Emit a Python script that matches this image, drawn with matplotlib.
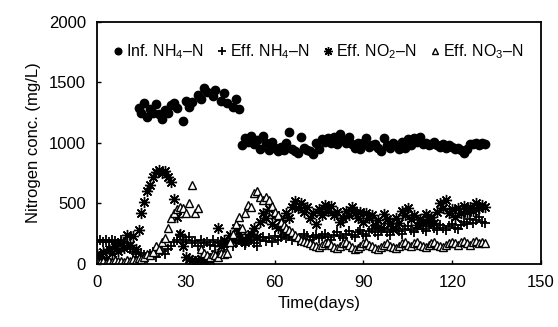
import matplotlib
matplotlib.use("Agg")
import matplotlib.pyplot as plt

plt.rcParams['font.family'] = ['Liberation Sans', 'DejaVu Sans']
plt.rcParams['mathtext.fontset'] = 'custom'
plt.rcParams['mathtext.rm'] = 'Liberation Sans'
plt.rcParams['mathtext.it'] = 'Liberation Sans'

# influent NH4-N (two operating phases)
inf_days = [14, 15, 16, 17, 18, 19, 20, 21, 22, 23, 24, 25, 26, 27, 29, 30, 31, 32, 34,
            35, 36, 37, 39, 40, 42, 43, 44, 46, 47, 48,
            49, 50, 51, 52, 53, 54, 55, 56, 57, 58, 59, 60, 61, 62, 63, 64, 65, 66, 67, 68,
            69, 70, 71, 72, 73, 74, 75, 76, 77, 78, 79, 80, 81, 82, 83, 84, 85, 86, 87, 88,
            89, 90, 91, 92, 93, 94, 95, 96, 97, 98, 99, 100, 101, 102, 103, 104, 105, 106,
            107, 108, 109, 110, 111, 112, 113, 114, 115, 116, 117, 118, 119, 120, 121, 122,
            123, 124, 125, 126, 127, 128, 129, 130, 131]
inf_nh4 = [1290, 1250, 1330, 1210, 1280, 1250, 1320, 1240, 1200, 1270, 1250, 1310, 1330, 1290,
           1180, 1350, 1300, 1340, 1400, 1360, 1450, 1420, 1390, 1440, 1350, 1410, 1330, 1300,
           1360, 1280,
           980, 1040, 1010, 1060, 990, 1020, 950, 1060, 1000, 940, 1010, 960, 930, 970, 940,
           1000, 1090, 950, 930, 920, 1050, 960, 940, 930, 910, 1000, 950, 1030, 1010, 1040,
           1000, 1050, 990, 1070, 1020, 1000, 1050, 990, 960, 1000, 950, 1000, 1040, 970, 980,
           990, 960, 930, 1040, 980, 960, 1000, 980, 950, 1010, 960, 1030, 980, 1040, 1010,
           1050, 990, 1000, 980, 990, 1010, 980, 970, 990, 960, 980, 970, 950, 960, 940, 920,
           950, 990, 990, 1000, 980, 1000, 990]

eff_days = list(range(0, 132))
eff_nh4 = [190, 200, 180, 195, 185, 200, 190, 175, 200, 185, 170, 120, 100, 80, 60, 90, 70, 50,
           80, 100, 60, 90, 110, 80, 120, 150, 180, 200, 240, 180, 200, 220, 170, 190, 150, 200,
           170, 180, 160, 200, 150, 180, 170, 140, 160, 180, 150, 170, 200, 180, 160, 190, 200,
           170, 150, 200, 220, 190, 210, 180, 230, 200, 220, 240, 210, 230, 200, 220, 190, 210,
           250, 230, 200, 220, 240, 210, 230, 250, 220, 200, 240, 260, 230, 210, 250, 270, 240,
           220, 260, 280, 250, 230, 270, 290, 260, 240, 280, 300, 260, 240, 280, 300, 270, 250,
           290, 310, 280, 260, 300, 320, 290, 270, 310, 330, 300, 280, 320, 300, 280, 310, 330,
           300, 290, 320, 350, 330, 370, 340, 360, 390, 350, 340]
eff_no2 = [80, 60, 100, 40, 120, 90, 150, 110, 180, 130, 240, 160, 230, 120, 280, 420, 510, 600,
           650, 720, 760, 780, 750, 770, 720, 680, 540, 390, 250, 150, 60, 40, 30, 20, 30, 40,
           20, 50, 30, 60, 80, 300, 150, 200, 180, 240, 200, 300, 250, 200, 180, 220, 250, 300,
           220,
           350, 420, 380, 450, 330, 400, 300, 360, 280, 420, 380, 470, 520, 460, 500, 430, 470,
           380, 420, 330, 450, 400, 490, 440, 480, 400, 430, 350, 380, 440, 400, 470, 420, 380,
           430, 350, 420, 380, 400, 320, 360, 300, 410, 370, 340, 290, 380, 340, 440, 400, 460,
           370, 400, 320, 370, 340, 410, 360, 390, 340, 430, 500, 460, 530, 420, 450, 390, 460,
           420, 480, 430, 470, 440, 500, 460, 490, 470]
eff_no3 = [20, 15, 25, 10, 20, 15, 30, 20, 25, 15, 30, 20, 40, 30, 50, 40, 60, 80, 70, 100, 150,
           120, 180, 215, 300, 380, 420, 450, 470, 460, 420, 500, 650, 420, 460, 120, 90, 70,
           60, 80, 70, 60, 90, 80, 90, 180, 250, 330, 390, 300, 420, 490, 470, 590, 600, 555,
           530, 550, 530, 480, 430, 400, 350, 320, 300, 280, 260, 240, 220, 200, 190, 180, 170,
           160, 150, 140, 155, 170, 180, 160, 140, 130, 150, 170, 180, 160, 140, 120, 130, 150,
           170, 180, 160, 150, 130, 120, 140, 160, 170, 150, 140, 130, 150, 170, 180, 160, 150,
           170, 180, 160, 150, 140, 160, 170, 180, 160, 150, 140, 160, 170, 180, 170, 160, 180,
           190, 170, 160, 180, 190, 170, 180, 175]

fig = plt.figure(figsize=(5.58, 3.27), dpi=100)
ax = fig.add_axes([0.174, 0.193, 0.7955, 0.74])

ax.plot(inf_days, inf_nh4, 'o', color='black', ms=6, mec='black',
        label='Inf. NH$_4$–N')
ax.plot(eff_days, eff_nh4, '+', color='black', ms=7.5, mew=1.3,
        label='Eff. NH$_4$–N')
ax.plot(eff_days, eff_no2, marker=(8, 2, 0), ls='none', color='black', ms=8, mew=1.0,
        label='Eff. NO$_2$–N')
ax.plot(eff_days, eff_no3, '^', color='black', mfc='white', ms=6, mew=1.0,
        label='Eff. NO$_3$–N')

ax.set_xlim(0, 150)
ax.set_ylim(0, 2000)
ax.set_xticks([0, 30, 60, 90, 120, 150])
ax.set_yticks([0, 500, 1000, 1500, 2000])
ax.tick_params(direction='in', length=3, width=1, labelsize=12, pad=8)
for s in ax.spines.values():
    s.set_linewidth(1.3)

ax.set_xlabel('Time(days)', fontsize=12, labelpad=4)
ax.set_ylabel('Nitrogen conc. (mg/L)', fontsize=12, labelpad=6)

ax.legend(loc='upper left', bbox_to_anchor=(0.01, 0.96), ncol=4, frameon=False,
          fontsize=11.5, handlelength=0.7, handletextpad=0.15, columnspacing=0.8,
          borderaxespad=0.3, markerscale=0.8)

fig.savefig('out.png', dpi=100)
